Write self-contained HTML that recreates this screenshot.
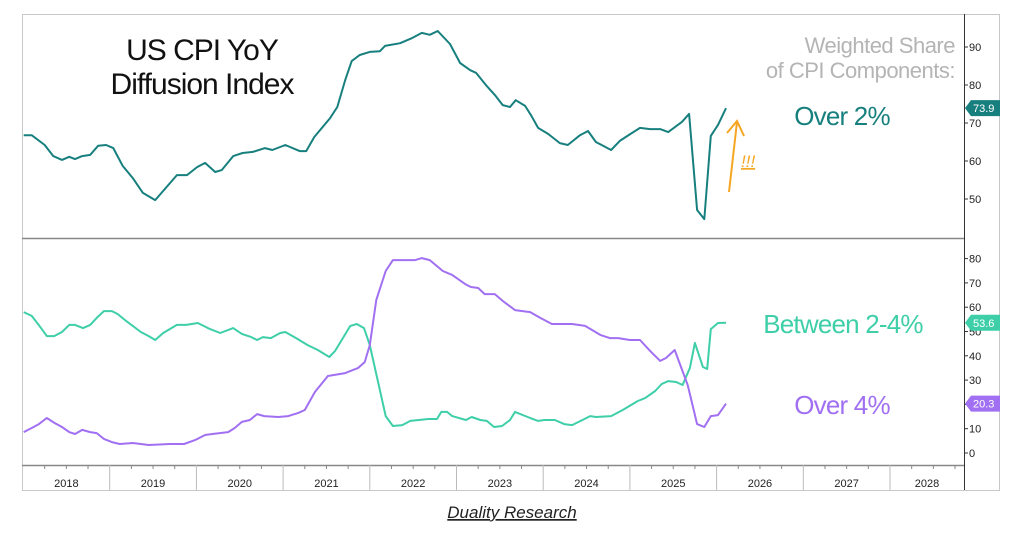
<!DOCTYPE html>
<html><head><meta charset="utf-8">
<style>
body{margin:0;background:#fff;width:1024px;height:540px;overflow:hidden;font-family:"Liberation Sans",sans-serif}
svg{position:absolute;left:0;top:0}
</style></head>
<body>
<svg id="chart" width="1024" height="540" xmlns="http://www.w3.org/2000/svg">
<defs><clipPath id="plotclip"><rect x="23" y="14" width="941" height="451"/></clipPath></defs>
<rect x="22.5" y="14.5" width="977" height="476" fill="#fff" stroke="#c8c8c8"/>
<line x1="22" y1="238.5" x2="964" y2="238.5" stroke="#888" stroke-width="1.5"/>
<line x1="22" y1="465.5" x2="964" y2="465.5" stroke="#888" stroke-width="1.5"/>
<line x1="964.5" y1="14" x2="964.5" y2="490" stroke="#333" stroke-width="1"/>
<g id="grid"></g>
<g id="series" clip-path="url(#plotclip)"></g>
<g id="badges"></g>
<text x="202" y="60" font-size="30" text-anchor="middle" fill="#111" letter-spacing="-1">US CPI YoY</text>
<text x="202" y="94" font-size="30" text-anchor="middle" fill="#111" letter-spacing="-1">Diffusion Index</text>
<text x="955" y="53" font-size="22" text-anchor="end" fill="#b4b4b4" letter-spacing="-0.5">Weighted Share</text>
<text x="955" y="78" font-size="22" text-anchor="end" fill="#b4b4b4" letter-spacing="-0.5">of CPI Components:</text>
<text x="842" y="125" font-size="26" text-anchor="middle" fill="#17807e" letter-spacing="-0.8">Over 2%</text>
<text x="843" y="333" font-size="26" text-anchor="middle" fill="#3ecfa8" letter-spacing="-0.8">Between 2-4%</text>
<text x="842" y="414" font-size="26" text-anchor="middle" fill="#a170f2" letter-spacing="-0.8">Over 4%</text>
<g stroke="#f5a623" stroke-width="2" fill="none">
<line x1="729" y1="192" x2="737" y2="122"/>
<polyline points="727,133 737,121 744,136"/>
</g>
<text x="741" y="167" font-size="17" font-style="italic" fill="#f5a623" text-decoration="underline">!!!</text>
<text x="512" y="518" font-size="17" font-style="italic" text-anchor="middle" fill="#222" text-decoration="underline">Duality Research</text>
</svg>
<script>
// ---- data (month index from Jan 2018, value %) ----
const over2Months=[0.1,1.2,3.0,4.2,5.4,6.4,7.2,8.2,9.3,10.4,11.5,12.5,13.8,15.2,16.6,18.3,21.3,22.7,24.1,25.2,26.6,27.5,29.1,30.4,31.8,33.5,34.5,36.3,38.3,39.2,40.3,42.5,43.5,44.6,45.5,46.6,48.0,49.4,50.1,52.2,53.9,55.2,56.3,57.4,59.1,60.5,61.9,62.7,64.2,65.3,66.4,67.4,68.2,69.5,70.4,71.3,72.7,74.3,75.4,77.1,78.2,79.3,81.4,82.6,84.3,85.4,86.8,88.2,89.3,91.2,92.2,93.3,94.3,95.2,96.2,97.3];
const over2Values=[66.8,66.8,64.2,61.3,60.3,61.1,60.5,61.3,61.6,64,64.2,63.4,58.7,55.5,51.6,49.7,56.3,56.3,58.4,59.5,57.1,57.6,61.3,62.1,62.4,63.4,62.9,64.2,62.6,62.6,66.3,71.3,74.2,81.3,86.3,87.9,88.7,88.9,90.3,91,92.4,93.7,93.2,94.2,90.8,85.8,83.9,83.2,79.7,77.4,74.7,74.2,76,74.5,71.8,68.7,67.1,64.7,64.2,66.8,67.9,65,62.9,65.3,67.4,68.7,68.4,68.4,67.6,70.3,72.4,47.1,44.7,66.6,69.5,73.9];
const betweenMonths=[0.1,1.2,2.1,3.3,4.3,5.4,6.4,7.2,8.3,9.3,10.2,11.2,12.3,13.1,14.3,15.2,16.3,17.4,18.3,19.4,21.3,22.6,24.2,25.9,27.3,29.1,30.3,31.6,32.4,33.2,34.3,35.6,36.3,37.8,39.4,40.8,42.4,43.2,45.3,46.2,47.2,48.0,50.2,51.2,52.5,53.6,56.1,57.3,57.9,58.7,59.4,61.3,62.1,63.3,64.2,65.2,66.3,67.4,68.1,70.2,71.3,72.2,73.6,74.9,76.0,78.5,79.3,81.4,83.0,85.1,86.1,87.5,88.4,89.3,90.4,91.3,92.3,93.0,94.1,94.7,95.2,96.2,97.3];
const betweenValues=[58,56.4,53,48.1,48.1,49.8,52.7,52.7,51.4,52.7,55.6,58.4,58.4,57.2,54.3,52.3,49.8,48.1,46.5,49.4,52.7,52.7,53.5,51,49.4,51.4,49,47.7,46.5,47.7,47.3,49.4,49.8,47.3,44.4,42.4,39.5,42,52.3,53.1,51.4,44.4,15.2,11.1,11.5,13.2,14,14,16.9,16.9,15.2,13.6,14.8,13.6,13.2,10.7,11.1,13.6,16.9,14.4,13.2,13.6,13.6,11.9,11.5,15.2,14.8,15.2,17.7,21.4,22.6,25.5,28.4,29.6,29.2,28,35,45.3,35.4,34.6,51,53.5,53.6];
const over4Months=[0.1,1.2,2.2,3.3,4.4,5.4,6.4,7.2,8.2,9.3,10.2,11.2,12.3,13.4,15.2,17.4,20.3,22.3,23.8,25.2,26.2,28.4,29.3,30.3,31.4,32.4,33.4,35.3,36.7,38.1,39.0,40.4,42.2,44.6,46.4,47.3,48.0,48.9,50.2,51.2,54.3,55.2,56.3,58.1,59.4,61.2,62.0,63.0,63.9,65.3,66.4,68.1,70.2,71.6,73.2,76.0,77.8,79.9,81.2,82.4,84.0,85.4,86.8,88.2,89.0,90.2,92.0,93.3,94.3,95.2,96.2,97.3];
const over4Values=[8.6,10.3,11.9,14.4,12.3,10.7,8.6,7.8,9.5,8.6,8.2,5.8,4.5,3.7,4.1,3.3,3.7,3.7,5.3,7.4,7.8,8.6,10.3,12.8,13.6,16,15.2,14.8,15.2,16.5,17.7,25.1,31.7,32.9,35,37.4,44.4,63,74.9,79.4,79.4,80.2,79.4,74.9,73.3,69.5,68.3,67.9,65.4,65.4,62.6,58.8,58,55.6,53.1,53.1,52.3,48.6,47.3,47.3,46.5,46.5,42,37.9,39.1,42.4,28,11.9,10.7,15.2,15.6,20.3];
const years=[2018,2019,2020,2021,2022,2023,2024,2025,2026,2027,2028];
const topTicks=[50,60,70,80,90];
const bottomTicks=[0,10,20,30,40,50,60,70,80];

// ---- axis functions ----
const xScale=m=>23+m*7.225;
const yTop=v=>47+(90-v)*3.8;
const yBot=v=>453-v*2.43;
const NS="http://www.w3.org/2000/svg";
function mk(tag,attrs,parent){const e=document.createElementNS(NS,tag);for(const k in attrs)e.setAttribute(k,attrs[k]);parent.appendChild(e);return e;}
const grid=document.getElementById('grid'), ser=document.getElementById('series'), bdg=document.getElementById('badges');

topTicks.forEach(v=>{
  const g=mk('g',{},grid);
  
  
  mk('line',{x1:964,x2:968,y1:yTop(v),y2:yTop(v),stroke:'#333'},g);
  const t=mk('text',{x:969,y:yTop(v)+4,'font-size':11,fill:'#222'},g);t.textContent=v;
});
bottomTicks.forEach(v=>{
  const g=mk('g',{},grid);
  
  
  mk('line',{x1:964,x2:968,y1:yBot(v),y2:yBot(v),stroke:'#333'},g);
  const t=mk('text',{x:969,y:yBot(v)+4,'font-size':11,fill:'#222'},g);t.textContent=v;
});
years.forEach((yr,i)=>{
  const x0=Math.max(22,xScale(i*12)), x1=Math.min(964,xScale((i+1)*12));
  if(i>0){const l=mk('line',{x1:x0,x2:x0,y1:465,y2:490,stroke:'#bbb'},grid);
    
    }
  for(let q=1;q<4;q++){const xq=xScale(i*12+q*3);if(xq<964)mk('line',{x1:xq,x2:xq,y1:465,y2:469,stroke:'#888'},grid);}
  const t=mk('text',{x:(x0+x1)/2,y:487,'font-size':11,'text-anchor':'middle',fill:'#222'},grid);
  t.textContent=yr;
  
  
});

function drawLine(ms,vs,ys,color,name){
  const p=mk('polyline',{points:ms.map((m,i)=>xScale(m).toFixed(1)+','+ys(vs[i]).toFixed(1)).join(' '),fill:'none',stroke:color,'stroke-width':2,'stroke-linejoin':'round'},ser);
  
  
}
drawLine(over2Months,over2Values,yTop,'#17807e','line-over-2');
drawLine(betweenMonths,betweenValues,yBot,'#3ecfa8','line-between-2-4');
drawLine(over4Months,over4Values,yBot,'#a170f2','line-over-4');

function badge(v,y,color,name){
  const g=mk('g',{},bdg);
  
  
  mk('polygon',{points:`965,${y} 971,${y-8} 1000,${y-8} 1000,${y+8} 971,${y+8}`,fill:color},g);
  const t=mk('text',{x:973,y:y+4,'font-size':11,fill:'#fff'},g);t.textContent=v.toFixed(1);
}
badge(over2Values[over2Values.length-1],yTop(over2Values[over2Values.length-1]),'#17807e','badge-over-2');
badge(betweenValues[betweenValues.length-1],yBot(betweenValues[betweenValues.length-1]),'#3ecfa8','badge-between-2-4');
badge(over4Values[over4Values.length-1],yBot(over4Values[over4Values.length-1]),'#a170f2','badge-over-4');
</script>
</body></html>
